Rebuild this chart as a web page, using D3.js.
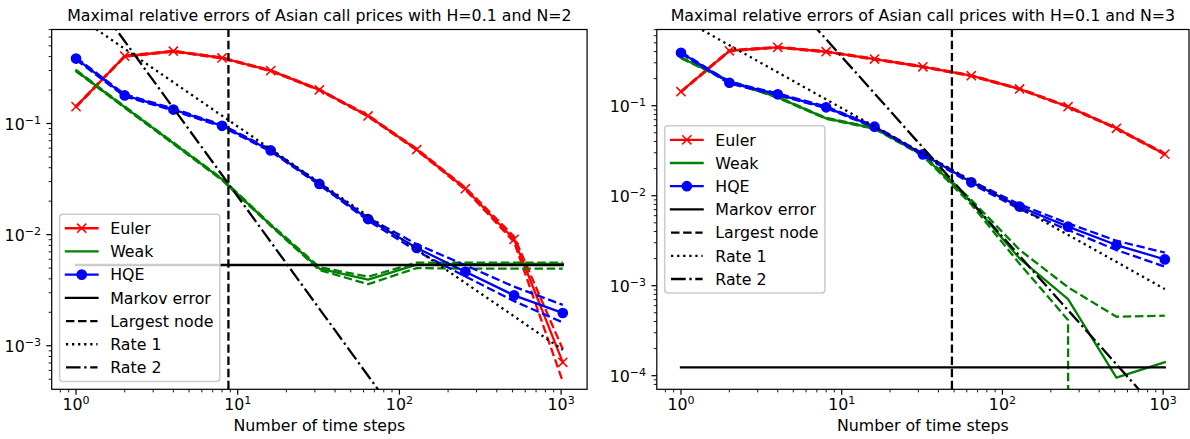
<!DOCTYPE html>
<html><head><meta charset="utf-8">
<script src="https://cdn.jsdelivr.net/npm/d3@7"></script>
<style>
body{margin:0;background:#fff}
svg{display:block}
text{font-family:"DejaVu Sans",sans-serif;fill:#000}
</style>
</head><body>
<svg id="c" width="1190" height="439"></svg>
<script>
// ---------------- data ----------------
const steps = [1, 2, 4, 8, 16, 32, 64, 128, 256, 512, 1024];
const titles = ["Maximal relative errors of Asian call prices with H=0.1 and N=2",
                "Maximal relative errors of Asian call prices with H=0.1 and N=3"];
const xLabel = "Number of time steps";
const xTickExps = [0, 1, 2, 3];
const yTickExpsN2 = [-1, -2, -3];
const yTickExpsN3 = [-1, -2, -3, -4];
const legendLabels = ["Euler", "Weak", "HQE", "Markov error", "Largest node", "Rate 1", "Rate 2"];

// N = 2
const eulerN2   = [0.142, 0.403, 0.447, 0.389, 0.299, 0.201, 0.117, 0.0583, 0.0259, 0.00907, 0.00071];
const eulerN2Hi = [0.1435, 0.407, 0.451, 0.393, 0.302, 0.203, 0.1185, 0.0592, 0.0265, 0.0096, 0.00093];
const eulerN2Lo = [0.1405, 0.399, 0.443, 0.385, 0.296, 0.199, 0.1155, 0.0575, 0.0253, 0.0086, 0.000475];
const weakN2    = [0.299, 0.1405, 0.0665, 0.0314, 0.0122, 0.00494, 0.00394, 0.00537, 0.00542, 0.00545, 0.00545];
const weakN2Hi  = [0.303, 0.1425, 0.0675, 0.0319, 0.0124, 0.0051, 0.00418, 0.0056, 0.0056, 0.0056, 0.0056];
const weakN2Lo  = [0.295, 0.1385, 0.0655, 0.0309, 0.0120, 0.0048, 0.00358, 0.0050, 0.00495, 0.00495, 0.00495];
const hqeN2     = [0.384, 0.179, 0.1336, 0.0953, 0.0572, 0.0286, 0.0138, 0.00758, 0.00463, 0.00284, 0.00197];
const hqeN2Hi   = [0.392, 0.183, 0.1363, 0.0972, 0.0584, 0.0292, 0.0142, 0.0082, 0.0053, 0.0034, 0.00233];
const hqeN2Lo   = [0.376, 0.175, 0.1309, 0.0934, 0.0560, 0.0280, 0.0134, 0.0071, 0.0042, 0.00252, 0.00162];
const markovN2  = [0.00533, 0.00533];
const markovX   = [1, 1024];
const nodeN2    = 8.76;
const rate1N2   = [0.94, 0.47, 0.235, 0.1175, 0.0588, 0.0294, 0.0147, 0.00734, 0.00367, 0.00184, 0.000918];
const rate2N2   = [2.2, 0.55, 0.1375, 0.0344, 0.0086, 0.00215, 0.000537, 0.000134, 3.36e-5, 8.4e-6, 2.1e-6];

// N = 3
const eulerN3   = [0.143, 0.408, 0.446, 0.398, 0.330, 0.271, 0.2155, 0.1535, 0.0975, 0.0561, 0.029];
const eulerN3Hi = [0.1447, 0.413, 0.451, 0.403, 0.334, 0.274, 0.218, 0.1553, 0.0987, 0.0568, 0.0294];
const eulerN3Lo = [0.1413, 0.403, 0.441, 0.393, 0.326, 0.268, 0.213, 0.1517, 0.0963, 0.0554, 0.0286];
const weakN3    = [0.341, 0.188, 0.124, 0.0724, 0.0561, 0.0283, 0.0085, 0.0020, 0.00071, 0.000095, 0.000141];
const weakN3Hi  = [0.345, 0.190, 0.1255, 0.0733, 0.0568, 0.0289, 0.0090, 0.0025, 0.00096, 0.000452, 0.000464];
const weakN3Lo  = [0.337, 0.186, 0.1225, 0.0715, 0.0554, 0.0277, 0.0080, 0.00175, 0.000416, 0, 0];
const hqeN3     = [0.388, 0.180, 0.134, 0.0960, 0.0585, 0.0288, 0.0141, 0.00755, 0.00453, 0.00283, 0.00196];
const hqeN3Hi   = [0.396, 0.184, 0.137, 0.098, 0.0597, 0.0294, 0.0146, 0.0080, 0.00493, 0.00316, 0.00233];
const hqeN3Lo   = [0.380, 0.176, 0.131, 0.094, 0.0573, 0.0282, 0.0136, 0.0071, 0.00416, 0.00249, 0.00163];
const markovN3  = [0.000124, 0.000124];
const nodeN3    = 48.5;
const rate1N3   = [0.94, 0.47, 0.235, 0.1175, 0.0588, 0.0294, 0.0147, 0.00734, 0.00367, 0.00184, 0.000918];
const rate2N3   = [35, 8.75, 2.19, 0.547, 0.137, 0.0342, 0.00854, 0.00214, 0.000534, 0.000134, 3.34e-5];

// ---------------- style ----------------
const PT = 110 / 72;
const FS = 15.8;
const LW = 1.5 * PT;
const DASH = {
  solid: null,
  dashed: [3.7 * 1.5 * PT, 1.6 * 1.5 * PT],
  dotted: [1 * 1.5 * PT, 1.65 * 1.5 * PT],
  dashdot: [6.4 * 1.5 * PT, 1.6 * 1.5 * PT, 1 * 1.5 * PT, 1.6 * 1.5 * PT]
};
const MS = 6 * PT / 2;
const RED = "#ff0000", GREEN = "#008000", BLUE = "#0000ff", BLACK = "#000000";

const xDomain = [Math.SQRT1_2, 1024 * Math.SQRT2];
const panels = [
  { x0: 51.7, x1: 587.1, y0: 29.5, y1: 389.3, yDom: [4.055e-4, 0.7015], title: titles[0], yExps: yTickExpsN2,
    euler: [eulerN2, eulerN2Lo, eulerN2Hi], weak: [weakN2, weakN2Lo, weakN2Hi], hqe: [hqeN2, hqeN2Lo, hqeN2Hi],
    markov: markovN2, node: nodeN2, rate1: rate1N2, rate2: rate2N2, loc: "lower left" },
  { x0: 656.8, x1: 1189, y0: 29.5, y1: 389.3, yDom: [7.06e-5, 0.703], title: titles[1], yExps: yTickExpsN3,
    euler: [eulerN3, eulerN3Lo, eulerN3Hi], weak: [weakN3, weakN3Lo, weakN3Hi], hqe: [hqeN3, hqeN3Lo, hqeN3Hi],
    markov: markovN3, node: nodeN3, rate1: rate1N3, rate2: rate2N3, loc: "center left" }
];

const svg = d3.select("#c");
const defs = svg.append("defs");

function sciLabel(sel, exp) {
  sel.append("tspan").text("10");
  sel.append("tspan").attr("dy", -6).attr("font-size", FS * 0.7)
     .text(exp < 0 ? "\u2212" + (-exp) : String(exp));
}

function xMarker(g, cx, cy, color) {
  g.append("path")
    .attr("d", `M${cx - MS},${cy - MS}L${cx + MS},${cy + MS}M${cx - MS},${cy + MS}L${cx + MS},${cy - MS}`)
    .attr("stroke", color).attr("stroke-width", 1 * PT).attr("fill", "none");
}
function oMarker(g, cx, cy, color) {
  g.append("circle").attr("cx", cx).attr("cy", cy).attr("r", MS)
    .attr("fill", color).attr("stroke", color).attr("stroke-width", 1 * PT);
}

panels.forEach((p, pi) => {
  const x = d3.scaleLog().domain(xDomain).range([p.x0, p.x1]);
  const y = d3.scaleLog().domain(p.yDom).range([p.y1, p.y0]);
  const yv = v => (v > 0 ? y(v) : y(1e-300));
  const g = svg.append("g");

  defs.append("clipPath").attr("id", "clip" + pi).append("rect")
    .attr("x", p.x0).attr("y", p.y0).attr("width", p.x1 - p.x0).attr("height", p.y1 - p.y0);
  const plot = g.append("g").attr("clip-path", `url(#clip${pi})`);

  const path = (xs, ys, color, style) => {
    const pts = xs.map((v, i) => [x(v), yv(ys[i])]);
    plot.append("path").attr("d", d3.line()(pts))
      .attr("fill", "none").attr("stroke", color).attr("stroke-width", LW)
      .attr("stroke-linejoin", "round")
      .attr("stroke-linecap", style ? "butt" : "square")
      .attr("stroke-dasharray", style ? DASH[style].join(",") : null);
  };

  // Euler
  path(steps, p.euler[0], RED, null);
  steps.forEach((s, i) => xMarker(plot, x(s), y(p.euler[0][i]), RED));
  path(steps, p.euler[1], RED, "dashed");
  path(steps, p.euler[2], RED, "dashed");
  // Weak
  path(steps, p.weak[0], GREEN, null);
  path(steps, p.weak[1], GREEN, "dashed");
  path(steps, p.weak[2], GREEN, "dashed");
  // HQE
  path(steps, p.hqe[0], BLUE, null);
  steps.forEach((s, i) => oMarker(plot, x(s), y(p.hqe[0][i]), BLUE));
  path(steps, p.hqe[1], BLUE, "dashed");
  path(steps, p.hqe[2], BLUE, "dashed");
  // Markov error
  path(markovX, p.markov, BLACK, null);
  // Largest node (vertical)
  path([p.node, p.node], [p.yDom[0], p.yDom[1]], BLACK, "dashed");
  // Rates
  path(steps, p.rate1, BLACK, "dotted");
  path(steps, p.rate2, BLACK, "dashdot");

  // spines
  g.append("rect").attr("x", p.x0).attr("y", p.y0).attr("width", p.x1 - p.x0).attr("height", p.y1 - p.y0)
    .attr("fill", "none").attr("stroke", BLACK).attr("stroke-width", 0.8 * PT);

  // x ticks
  const axg = g.append("g");
  const xMinor = [];
  for (let e = -1; e <= 3; e++) for (let k = 2; k <= 9; k++) {
    const v = k * Math.pow(10, e);
    if (v >= xDomain[0] && v <= xDomain[1]) xMinor.push(v);
  }
  xMinor.forEach(v => axg.append("line").attr("x1", x(v)).attr("x2", x(v))
    .attr("y1", p.y1).attr("y2", p.y1 + 2 * PT).attr("stroke", BLACK).attr("stroke-width", 0.6 * PT));
  xTickExps.forEach(e => {
    const v = Math.pow(10, e);
    axg.append("line").attr("x1", x(v)).attr("x2", x(v)).attr("y1", p.y1).attr("y2", p.y1 + 3.5 * PT)
      .attr("stroke", BLACK).attr("stroke-width", 0.8 * PT);
    const t = axg.append("text").attr("x", x(v)).attr("y", p.y1 + 20.4)
      .attr("text-anchor", "middle").attr("font-size", FS);
    sciLabel(t, e);
  });
  // y ticks
  const yMinor = [];
  for (let e = -5; e <= 0; e++) for (let k = 2; k <= 9; k++) {
    const v = k * Math.pow(10, e);
    if (v >= p.yDom[0] && v <= p.yDom[1]) yMinor.push(v);
  }
  yMinor.forEach(v => axg.append("line").attr("y1", y(v)).attr("y2", y(v))
    .attr("x1", p.x0).attr("x2", p.x0 - 2 * PT).attr("stroke", BLACK).attr("stroke-width", 0.6 * PT));
  p.yExps.forEach(e => {
    const v = Math.pow(10, e);
    axg.append("line").attr("y1", y(v)).attr("y2", y(v)).attr("x1", p.x0).attr("x2", p.x0 - 3.5 * PT)
      .attr("stroke", BLACK).attr("stroke-width", 0.8 * PT);
    const t = axg.append("text").attr("x", p.x0 - 7 * PT).attr("y", y(v) + 6.5)
      .attr("text-anchor", "end").attr("font-size", FS);
    sciLabel(t, e);
  });

  // title and label
  g.append("text").attr("x", (p.x0 + p.x1) / 2).attr("y", p.y0 - 8.6)
    .attr("text-anchor", "middle").attr("font-size", FS).text(p.title);
  g.append("text").attr("x", (p.x0 + p.x1) / 2).attr("y", 430.5)
    .attr("text-anchor", "middle").attr("font-size", FS).text(xLabel);

  // legend
  const lg = g.append("g");
  const bp = 0.4 * FS, hl = 2 * FS, htp = 0.8 * FS, ls = 0.5 * FS, bap = 0.5 * FS, rowH = 15.3;
  const tmp = lg.append("text").attr("font-size", FS);
  let maxW = 0;
  legendLabels.forEach(l => { tmp.text(l); maxW = Math.max(maxW, tmp.node().getComputedTextLength()); });
  tmp.remove();
  const lw = 2 * bp + hl + htp + maxW;
  const lh = 2 * bp + legendLabels.length * rowH + (legendLabels.length - 1) * ls;
  const lx = p.x0 + bap;
  const ly = p.loc === "lower left" ? p.y1 - bap - lh : (p.y0 + p.y1) / 2 - lh / 2;
  lg.append("rect").attr("x", lx).attr("y", ly).attr("width", lw).attr("height", lh)
    .attr("rx", 0.2 * FS).attr("ry", 0.2 * FS)
    .attr("fill", "#ffffff").attr("fill-opacity", 0.8)
    .attr("stroke", "#cccccc").attr("stroke-width", 1 * PT);
  const handles = [
    { c: RED, s: null, m: "x" }, { c: GREEN, s: null }, { c: BLUE, s: null, m: "o" },
    { c: BLACK, s: null }, { c: BLACK, s: "dashed" }, { c: BLACK, s: "dotted" }, { c: BLACK, s: "dashdot" }
  ];
  legendLabels.forEach((l, i) => {
    const cy = ly + bp + rowH / 2 + i * (rowH + ls);
    const hx0 = lx + bp, hx1 = hx0 + hl;
    const h = handles[i];
    lg.append("line").attr("x1", hx0).attr("x2", hx1).attr("y1", cy).attr("y2", cy)
      .attr("stroke", h.c).attr("stroke-width", LW)
      .attr("stroke-linecap", h.s ? "butt" : "square")
      .attr("stroke-dasharray", h.s ? DASH[h.s].join(",") : null);
    if (h.m === "x") xMarker(lg, (hx0 + hx1) / 2, cy, h.c);
    if (h.m === "o") oMarker(lg, (hx0 + hx1) / 2, cy, h.c);
    lg.append("text").attr("x", hx1 + htp).attr("y", cy + 5.7).attr("font-size", FS).text(l);
  });
});
</script>
</body></html>
